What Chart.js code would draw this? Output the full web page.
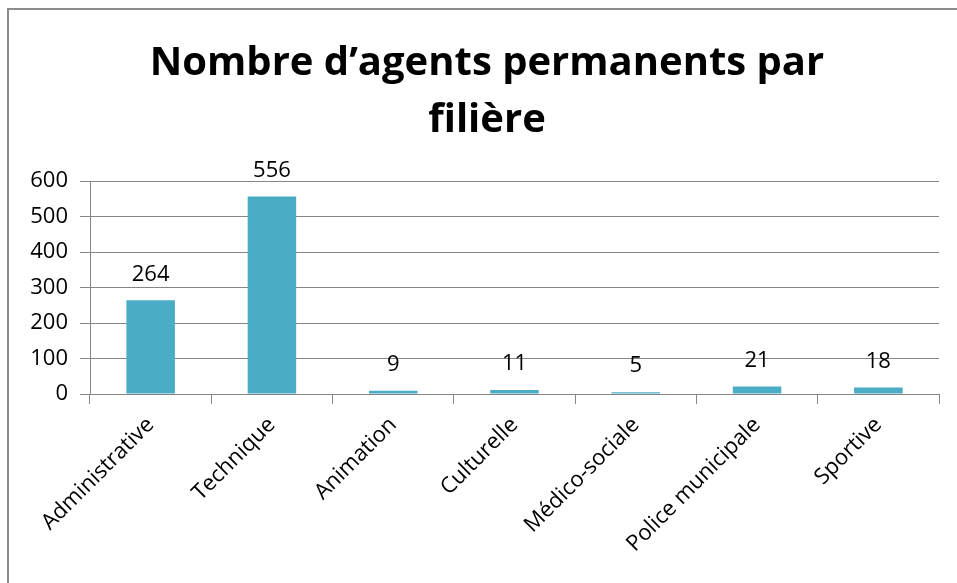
<!DOCTYPE html>
<html>
<head>
<meta charset="utf-8">
<script src="https://cdn.jsdelivr.net/npm/chart.js@4"></script>
<style>
    html, body { margin: 0; padding: 0; background: #fff; overflow: hidden; }
    #frame { position: absolute; left: 7px; top: 8px; width: 970px; height: 600px; border: 2px solid #8c8c8c; }
    #wrap { position: absolute; left: 0; top: 0; width: 957px; height: 583px; }
</style>
</head>
<body>
<div id="frame"></div>
<div id="wrap"><canvas id="chart"></canvas></div>
<script>
const filieres = ['Administrative', 'Technique', 'Animation', 'Culturelle', 'Médico-sociale', 'Police municipale', 'Sportive'];
const agents = [264, 556, 9, 11, 5, 21, 18];
const titleLines = ['Nombre d\u2019agents permanents par', 'filière'];

const fontFamily = "'Open Sans', 'DejaVu Sans', sans-serif";
const gridColor = '#868686';

// draw the value above each bar
const valueLabels = {
    id: 'valueLabels',
    afterDatasetsDraw(chart) {
        const ctx = chart.ctx;
        const meta = chart.getDatasetMeta(0);
        ctx.save();
        ctx.font = '22px ' + fontFamily;
        ctx.fillStyle = '#000';
        ctx.textAlign = 'center';
        ctx.textBaseline = 'middle';
        meta.data.forEach((bar, i) => {
            ctx.fillText(agents[i], bar.x, bar.y - 26);
        });
        ctx.restore();
    }
};

// title centred on the whole frame (the frame starts a bit right of the canvas edge)
const frameTitle = {
    id: 'frameTitle',
    afterDraw(chart) {
        const ctx = chart.ctx;
        const cx = (chart.width + 17) / 2;
        ctx.save();
        ctx.font = 'bold 40px ' + fontFamily;
        ctx.fillStyle = '#000';
        ctx.textAlign = 'center';
        ctx.textBaseline = 'middle';
        titleLines.forEach((line, i) => {
            ctx.fillText(line, cx, 64 + i * 57);
        });
        ctx.restore();
    }
};

new Chart(document.getElementById('chart'), {
    type: 'bar',
    data: {
        labels: filieres,
        datasets: [{
            data: agents,
            backgroundColor: '#4BACC6',
            borderWidth: 0,
            categoryPercentage: 1,
            barPercentage: 0.4
        }]
    },
    options: {
        responsive: true,
        maintainAspectRatio: false,
        animation: false,
        layout: { padding: { left: 0, right: 18, top: 181, bottom: 0 } },
        plugins: {
            legend: { display: false },
            tooltip: { enabled: false },
            title: { display: false }
        },
        scales: {
            y: {
                min: 0,
                max: 600,
                ticks: { stepSize: 100, color: '#000', font: { family: fontFamily, size: 22 }, padding: 12 },
                grid: { color: gridColor, tickLength: 10, lineWidth: 1 },
                border: { color: gridColor },
                afterFit(scale) { scale.width = 90; }
            },
            x: {
                ticks: { color: '#000', font: { family: fontFamily, size: 22 }, minRotation: 45, maxRotation: 45, padding: 8 },
                grid: { offset: true, drawOnChartArea: false, color: gridColor, tickLength: 10 },
                border: { color: gridColor },
                afterFit(scale) { scale.height = 583 - 394; }
            }
        }
    },
    plugins: [valueLabels, frameTitle]
});
</script>
</body>
</html>
